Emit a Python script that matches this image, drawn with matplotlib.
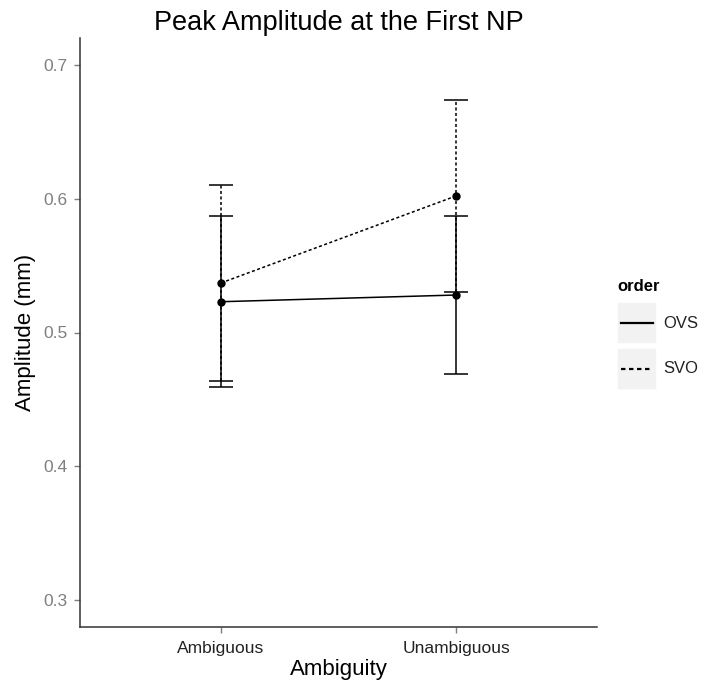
import matplotlib
matplotlib.use("Agg")
import matplotlib.pyplot as plt
from matplotlib.patches import Rectangle
from matplotlib.lines import Line2D

plt.rcParams['font.family'] = ['Liberation Sans', 'DejaVu Sans']

# --- data ---
ambiguity = ["Ambiguous", "Unambiguous"]
orders = ["OVS", "SVO"]
mean_ovs = [0.523, 0.528]
mean_svo = [0.537, 0.602]
err_ovs = [0.064, 0.059]
err_svo = [0.073, 0.072]
yticks = [0.3, 0.4, 0.5, 0.6, 0.7]

W, H = 719, 688
fig = plt.figure(figsize=(W / 100, H / 100), dpi=100)
ax = fig.add_axes([80 / W, 1 - 627 / H, (597 - 80) / W, (627 - 38) / H])

x = [1, 2]
styles = {"OVS": "-", "SVO": (0, (2, 1.6))}
for name, m, e in [("OVS", mean_ovs, err_ovs), ("SVO", mean_svo, err_svo)]:
    ls = styles[name]
    ax.plot(x, m, color="black", lw=1.1, ls=ls)
    eb = ax.errorbar(x, m, yerr=e, fmt="none", ecolor="black", elinewidth=1.1,
                     capsize=8.5, capthick=1.1)
    eb[2][0].set_linestyle(ls)
    ax.plot(x, m, "o", color="black", ms=5)

ax.set_xlim(0.4, 2.6)
ax.set_ylim(0.28, 0.72)
ax.set_xticks(x)
ax.set_xticklabels(ambiguity)
ax.set_yticks(yticks)
ax.set_yticklabels([f"{v:.1f}" for v in yticks])
for s in ["top", "right"]:
    ax.spines[s].set_visible(False)
for s in ["left", "bottom"]:
    ax.spines[s].set_color("#333333")
    ax.spines[s].set_linewidth(1.1)
ax.tick_params(axis="both", colors="#7f7f7f", labelsize=12.5, length=4, width=1)
ax.tick_params(axis="x", labelcolor="#222222", pad=6)
ax.tick_params(axis="y", pad=5)
ax.set_xlabel("Ambiguity", fontsize=16, labelpad=2)
ax.set_ylabel("Amplitude (mm)", fontsize=16, labelpad=5)
ax.set_title("Peak Amplitude at the First NP", fontsize=19.5, pad=6)

# --- legend ---
fig.text(617 / W, 1 - 286 / H, "order", fontsize=12, fontweight="bold",
         va="center", ha="left")
for i, name in enumerate(orders):
    cy = 323 + i * 46
    fig.patches.append(Rectangle((617 / W, 1 - (cy + 21) / H), 40 / W, 42 / H,
                                 transform=fig.transFigure, facecolor="#f2f2f2",
                                 edgecolor="white", lw=1.2))
    fig.lines.append(Line2D([621 / W, 653 / W], [1 - cy / H, 1 - cy / H],
                            transform=fig.transFigure, color="black",
                            lw=1.6, ls=styles[name]))
    fig.text(663 / W, 1 - cy / H, name, fontsize=12, va="center", ha="left",
             color="#222222")

fig.savefig("out.png", dpi=100)
